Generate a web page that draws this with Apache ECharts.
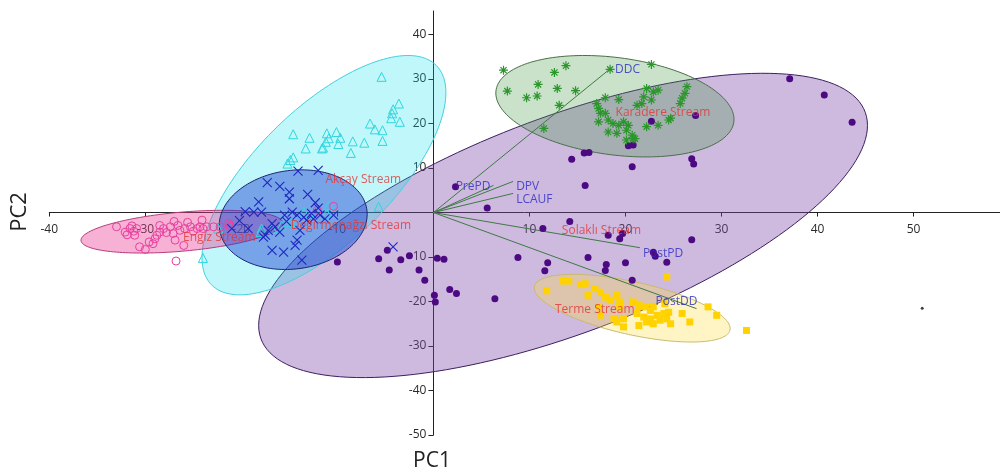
<!DOCTYPE html>
<html>
<head>
<meta charset="utf-8">
<script src="https://cdn.jsdelivr.net/npm/echarts@6/dist/echarts.min.js"></script>
<style>
html,body{margin:0;padding:0;background:#fff;}
#chart{width:1000px;height:472px;}
</style>
</head>
<body>
<div id="chart"></div>
<script>
// ---------- DATA ----------
const xTickValues = [-40, -30, -20, -10, 10, 20, 30, 40, 50];
const yTickValues = [-50, -40, -30, -20, -10, 10, 20, 30, 40];

const groupNames = ['Solaklı Stream', 'Karadere Stream', 'Terme Stream', 'Akçay Stream', 'Engiz Stream', 'Değirmenağzı Stream'];

const engiz = [[-33.0,-3.2],[-32.1,-4.4],[-31.6,-3.6],[-31.9,-5.0],[-31.2,-4.2],[-31.4,-3.0],[-30.9,-3.6],[-31.1,-5.1],[-30.6,-7.7],[-30.0,-8.3],[-29.6,-6.6],[-29.0,-5.9],[-28.8,-5.1],[-28.5,-2.9],[-28.1,-3.6],[-28.5,-4.4],[-27.4,-3.2],[-27.1,-4.7],[-26.6,-2.9],[-26.4,-4.0],[-26.9,-6.2],[-26.0,-7.4],[-25.9,-3.6],[-25.3,-3.2],[-25.0,-4.2],[-24.6,-3.6],[-24.3,-3.2],[-24.0,-3.6],[-24.1,-1.7],[-23.6,-3.2],[-22.9,-3.2],[-22.2,-3.2],[-21.3,-2.5],[-21.2,-3.1],[-27.8,-4.5],[-26.8,-10.9],[-10.4,1.4],[-12.1,0.5],[-29.2,-7.0],[-25.6,-2.2],[-27.0,-2.0]];

const akcay = [[-5.4,30.5],[-3.6,24.5],[-4.2,23.2],[-4.3,22.3],[-4.4,21.2],[-3.5,20.4],[-6.6,20.0],[-6.1,18.7],[-5.3,18.5],[-5.3,16.1],[-7.2,15.7],[-8.4,16.0],[-8.6,13.4],[-10.1,18.1],[-9.7,16.8],[-9.9,15.4],[-11.1,17.8],[-10.9,16.7],[-11.2,15.9],[-11.5,14.6],[-11.6,14.4],[-12.9,16.8],[-13.3,14.4],[-14.6,17.6],[-14.6,12.4],[-14.9,11.8],[-15.2,11.0],[-24.0,-10.2],[-18.0,-4.4],[-16.8,-3.6],[-15.8,-2.9],[-14.8,-2.1],[-12.8,-1.0],[-10.9,1.6],[-5.7,1.3],[-13.5,0.2],[-17.9,-3.6],[-22.4,-3.6],[-11.1,-0.2]];

const degirmenagzi = [[-14.1,9.3],[-12.0,9.5],[-17.3,6.7],[-16.0,5.9],[-15.0,4.6],[-15.0,3.1],[-13.1,4.1],[-12.3,2.2],[-18.2,2.4],[-18.7,0.1],[-17.9,0.1],[-14.7,0.1],[-14.2,-0.6],[-13.5,-1.1],[-13.2,-1.7],[-12.5,-1.4],[-11.8,-0.6],[-11.3,-1.4],[-10.4,-0.6],[-12.7,-0.2],[-15.5,-0.6],[-16.8,-2.5],[-16.5,-3.2],[-17.2,-4.0],[-16.0,-4.4],[-17.5,-5.1],[-19.3,-3.6],[-17.7,-5.5],[-14.2,-6.2],[-14.4,-7.4],[-16.8,-8.5],[-15.6,-8.9],[-13.7,-10.7],[-21.0,-3.6],[-4.2,-7.7],[-19.6,0.2],[-13.9,-4.0],[-15.3,-2.0],[-12.0,1.0],[-20.2,-1.8]];

const karadere = [[7.3,32.0],[13.8,33.0],[12.6,31.5],[18.4,32.2],[22.7,33.3],[7.7,27.3],[9.7,25.8],[10.8,26.2],[10.9,28.8],[12.9,27.9],[14.8,27.4],[13.1,24.1],[11.5,18.9],[17.9,25.8],[19.3,25.4],[17.0,24.5],[17.2,23.4],[22.2,27.9],[22.9,27.1],[23.4,27.5],[21.9,26.0],[22.7,25.3],[21.2,24.1],[21.7,24.5],[26.4,28.3],[26.2,26.8],[25.9,25.7],[25.7,24.5],[17.4,22.3],[17.9,22.3],[18.2,20.8],[18.7,20.0],[19.3,19.6],[19.8,20.4],[20.3,19.6],[17.2,20.4],[18.2,18.1],[19.1,17.8],[20.1,18.5],[20.7,17.4],[20.8,16.6],[22.2,19.3],[23.4,19.6],[24.5,20.8],[20.1,16.3],[24.7,21.2],[21.0,16.6]];

const solakli = [[37.1,30.1],[40.7,26.4],[43.6,20.3],[22.7,20.5],[27.3,21.8],[20.3,15.0],[20.8,15.2],[15.7,13.4],[16.2,13.5],[14.4,12.0],[26.9,12.1],[27.1,10.9],[20.7,10.3],[15.8,6.1],[14.2,-2.0],[11.4,-3.6],[18.2,-5.1],[19.7,-4.7],[19.4,-5.9],[26.9,-6.1],[8.8,-10.1],[11.9,-11.3],[11.6,-13.1],[16.1,-10.1],[18.0,-11.7],[17.9,-13.0],[20.0,-11.3],[20.7,-15.2],[22.9,-8.9],[23.1,-9.8],[24.3,-11.2],[2.3,5.8],[5.6,1.0],[-10.0,-11.1],[-5.7,-10.4],[-4.8,-8.5],[-4.6,-12.9],[-3.4,-10.6],[-2.5,-9.7],[-1.5,-12.9],[-0.9,-15.2],[0.4,-10.3],[1.1,-10.5],[1.7,-17.3],[2.4,-18.2],[0.1,-18.6],[0.2,-20.1],[6.4,-19.4]];

const terme = [[11.8,-17.6],[13.5,-15.4],[14.1,-15.4],[15.3,-16.2],[15.8,-16.0],[16.8,-17.1],[17.4,-17.9],[17.9,-19.0],[18.4,-19.7],[19.1,-18.6],[19.4,-20.1],[17.4,-23.1],[18.8,-23.9],[19.1,-24.6],[19.8,-25.7],[20.8,-20.1],[21.4,-20.9],[22.1,-21.2],[22.6,-22.0],[22.9,-21.2],[21.2,-22.7],[21.9,-23.5],[22.6,-23.9],[23.3,-23.1],[24.0,-22.7],[23.6,-24.2],[24.3,-23.9],[22.2,-24.6],[24.3,-14.5],[25.9,-22.7],[26.7,-24.6],[28.6,-21.2],[29.5,-23.1],[32.6,-26.5],[24.1,-20.5],[24.5,-22.4],[21.4,-25.4],[16.1,-18.6],[17.2,-21.2],[19.4,-21.2],[19.8,-23.9],[22.9,-25.0],[24.7,-25.0]];

const outlier = [[50.9,-21.5]];

// ellipse per group: [centreX, centreY, halfWidthX, halfHeightY, phaseDeg]
const ellipseSolakli = [13.5, -2.9, 31.7, 34.2, 48.9];
const ellipseKaradere = [18.9, 23.9, 12.4, 11.4, 105];
const ellipseTerme = [20.7, -21.5, 10.2, 7.6, 127];
const ellipseAkcay = [-11.4, 8.4, 12.7, 26.9, 46.4];
const ellipseEngiz = [-26.2, -4.3, 10.5, 4.8, 66.4];
const ellipseDegirmenagzi = [-14.6, -1.6, 7.7, 11.2, 83.7];

// group label anchors (data coords)
const groupLabelPos = [[17.5,-4.0],[23.9,22.5],[16.8,-21.8],[-7.3,7.5],[-22.3,-5.7],[-8.6,-2.9]];

// loading vectors
const loadingNames = ['DDC','PrePD','DPV','LCAUF','PostPD','PostDD'];
const loadingX = [18.4, 6.25, 8.3, 8.3, 21.5, 27.4];
const loadingY = [32.3, 6.1, 7.0, 4.3, -7.9, -21.6];

// ---------- STYLES ----------
const ellipseStyles = [
  {fill:'rgba(125,70,170,0.38)', stroke:'#3c2060'},
  {fill:'rgba(60,150,60,0.28)', stroke:'#4a704a'},
  {fill:'rgba(255,222,60,0.30)', stroke:'#c8bc6a'},
  {fill:'rgba(0,225,235,0.25)', stroke:'#44d0dc'},
  {fill:'rgba(235,60,150,0.40)', stroke:'#b83a7a'},
  {fill:'rgba(30,60,210,0.45)', stroke:'#1a2470'}
];
const loadingLabelCfg = {
  DDC:{position:'right', distance:5, offset:[0,1]},
  PrePD:{position:'left', distance:3, offset:[0,1]},
  DPV:{position:'right', distance:3, offset:[0,5]},
  LCAUF:{position:'right', distance:3, offset:[0,6]},
  PostPD:{position:'right', distance:3, offset:[0,6]},
  PostDD:{position:'top', distance:1, offset:[-20,0]}
};

const FONT = 'Open Sans';
const chart = echarts.init(document.getElementById('chart'), null, {renderer:'canvas'});

const ellipses = [ellipseSolakli, ellipseKaradere, ellipseTerme, ellipseAkcay, ellipseEngiz, ellipseDegirmenagzi];

function renderEllipse(params, api) {
  const cx = api.value(0), cy = api.value(1), rx = api.value(2), ry = api.value(3);
  const ph = api.value(4) * Math.PI / 180;
  const pts = [];
  const N = 160;
  for (let i = 0; i < N; i++) {
    const t = i / N * Math.PI * 2;
    pts.push(api.coord([cx + rx * Math.cos(t), cy + ry * Math.cos(t - ph)]));
  }
  const st = ellipseStyles[params.dataIndex];
  return {type:'polygon', shape:{points:pts}, style:{fill:st.fill, stroke:st.stroke, lineWidth:1}};
}

const ASTER = 'path://M5 0L5 10M0 5L10 5M1.6 1.6L8.4 8.4M8.4 1.6L1.6 8.4';
const CROSS = 'path://M0 0L10 10M10 0L0 10';

const option = {
  animation:false,
  backgroundColor:'#fff',
  grid:{left:49.3, right:0, top:11, bottom:37, containLabel:false, outerBoundsMode:'none'},
  xAxis:{
    type:'value', min:-40, max:59, interval:10, position:'bottom',
    axisLine:{onZero:false, lineStyle:{color:'#222', width:1}},
    axisTick:{show:true, length:4, lineStyle:{color:'#222'}, customValues:xTickValues},
    axisLabel:{customValues:xTickValues, margin:11, color:'#2a2a2a', fontSize:12, fontFamily:FONT},
    splitLine:{show:false}
  },
  yAxis:{
    type:'value', min:-50, max:45.3, interval:10, position:'left',
    axisLine:{onZero:false, lineStyle:{color:'#222', width:1}},
    axisTick:{show:true, length:5, lineStyle:{color:'#222'}, customValues:yTickValues},
    axisLabel:{customValues:yTickValues, margin:7, color:'#2a2a2a', fontSize:12, fontFamily:FONT},
    splitLine:{show:false}
  },
  graphic:[
    {type:'text', x:20, y:212, rotation:Math.PI/2, style:{text:'PC2', x:0, y:0, align:'center', verticalAlign:'middle', fontSize:22, fontFamily:FONT, fill:'#222'}},
    {type:'text', x:432, y:461, style:{text:'PC1', x:0, y:0, align:'center', verticalAlign:'middle', fontSize:21, fontFamily:FONT, fill:'#222'}}
  ],
  series:[
    {type:'custom', renderItem:renderEllipse, data:ellipses, encode:{x:0, y:1}, z:1, silent:true},
    {type:'lines', coordinateSystem:'cartesian2d', z:2, silent:true,
      lineStyle:{color:'#3f7a45', width:1, opacity:1},
      data:loadingNames.map((n,i)=>({coords:[[0,0],[loadingX[i], loadingY[i]]]}))},
    {type:'scatter', name:'Solaklı Stream', data:solakli, symbol:'circle', symbolSize:7, z:3,
      itemStyle:{color:'#4b0a82', opacity:1}},
    {type:'scatter', name:'Karadere Stream', data:karadere, symbol:ASTER, symbolSize:9, z:3,
      itemStyle:{color:'rgba(0,0,0,0)', borderColor:'#2b962b', borderWidth:1.2, opacity:1}},
    {type:'scatter', name:'Terme Stream', data:terme, symbol:'rect', symbolSize:7, z:3,
      itemStyle:{color:'#ffd200', opacity:1}},
    {type:'scatter', name:'Akçay Stream', data:akcay, symbol:'triangle', symbolSize:9, z:3,
      itemStyle:{color:'rgba(0,0,0,0)', borderColor:'#2fd6df', borderWidth:1, opacity:1}},
    {type:'scatter', name:'Engiz Stream', data:engiz, symbol:'circle', symbolSize:8, z:3,
      itemStyle:{color:'rgba(0,0,0,0)', borderColor:'#e8409e', borderWidth:1, opacity:1}},
    {type:'scatter', name:'Değirmenağzı Stream', data:degirmenagzi, symbol:CROSS, symbolSize:9, z:3,
      itemStyle:{color:'rgba(0,0,0,0)', borderColor:'#1e28c0', borderWidth:1.1, opacity:1}},
    {type:'scatter', data:outlier, symbol:'circle', symbolSize:3, z:3, itemStyle:{color:'#111'}},
    {type:'scatter', z:5, silent:true, symbolSize:0,
      data:groupNames.map((n,i)=>({name:n, value:groupLabelPos[i]})),
      label:{show:true, position:'inside', formatter:p=>p.name, color:'#e23434', fontSize:12, fontFamily:FONT}},
    {type:'scatter', z:5, silent:true, symbolSize:0,
      data:loadingNames.map((n,i)=>({name:n, value:[loadingX[i], loadingY[i]], label:loadingLabelCfg[n]})),
      label:{show:true, formatter:p=>p.name, color:'#2a2ac4', fontSize:12, fontFamily:FONT}}
  ]
};
chart.setOption(option);

// move both axes so they cross at the origin, using the library's own scales
const pOrigin = chart.convertToPixel({gridIndex:0}, [0, 0]);
const pCorner = chart.convertToPixel({gridIndex:0}, [-40, -50]);
chart.setOption({
  xAxis:{offset: pOrigin[1] - pCorner[1]},
  yAxis:{offset: pCorner[0] - pOrigin[0]}
});
</script>
</body>
</html>
